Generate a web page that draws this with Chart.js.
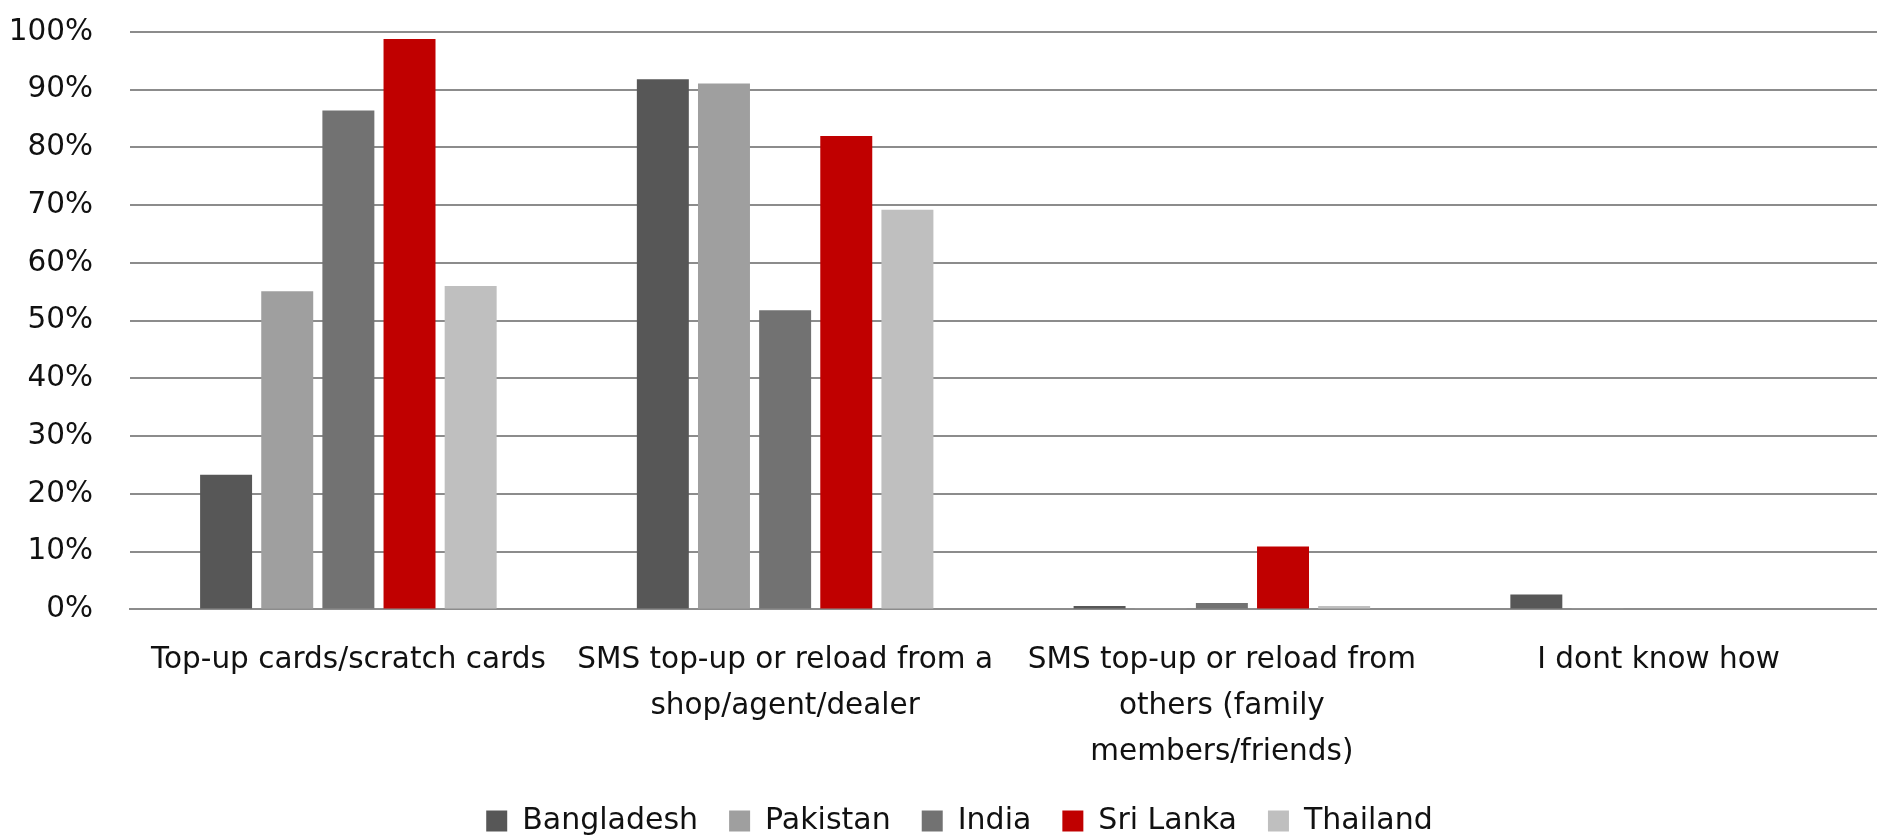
<!DOCTYPE html>
<html>
<head>
<meta charset="utf-8">
<script src="https://cdn.jsdelivr.net/npm/chart.js@4/dist/chart.umd.min.js"></script>
<style>
html,body{margin:0;padding:0;background:#fff;}
#wrap{width:1877px;height:838px;position:relative;}
</style>
</head>
<body>
<div id="wrap"><canvas id="c" width="1877" height="838"></canvas></div>
<script>
const categories = [
  ["Top-up cards/scratch cards"],
  ["SMS top-up or reload from a", "shop/agent/dealer"],
  ["SMS top-up or reload from", "others (family", "members/friends)"],
  ["I dont know how"]
];
const bangladesh = [23.3, 91.8, 0.6, 2.6];
const pakistan   = [55.1, 91.1, 0.2, 0.2];
const india      = [86.4, 51.8, 1.1, 0];
const sriLanka   = [98.8, 82.0, 10.9, 0];
const thailand   = [56.0, 69.2, 0.6, 0];
const seriesNames = ["Bangladesh", "Pakistan", "India", "Sri Lanka", "Thailand"];
const seriesColors = ["#575757", "#9f9f9f", "#727272", "#c00000", "#bfbfbf"];
const seriesValues = [bangladesh, pakistan, india, sriLanka, thailand];

const FONT = "'DejaVu Sans', sans-serif";

const legendShift = {
  id: 'legendShift',
  afterLayout(chart) {
    if (chart.legend) { chart.legend.left += 21; chart.legend.right += 21; }
  }
};

new Chart(document.getElementById('c'), {
  type: 'bar',
  data: {
    labels: categories,
    datasets: seriesNames.map((n, i) => ({
      label: n,
      data: seriesValues[i],
      backgroundColor: seriesColors[i],
      borderWidth: 0,
      categoryPercentage: 0.7,
      barPercentage: 0.85
    }))
  },
  plugins: [legendShift],
  options: {
    responsive: false,
    animation: false,
    devicePixelRatio: 1,
    layout: { padding: { top: 0, right: 0, left: 0, bottom: -8 } },
    plugins: {
      tooltip: { enabled: false },
      legend: {
        position: 'bottom',
        labels: {
          boxWidth: 21, boxHeight: 21,
          padding: 31,
          color: '#111',
          font: { family: FONT, size: 30 }
        }
      }
    },
    scales: {
      x: {
        grid: { display: false, drawTicks: false },
        border: { display: true, color: '#8c8c8c', width: 2 },
        afterFit: s => { s.height = 165.6; },
        ticks: {
          color: '#111',
          padding: 28.5,
          maxRotation: 0,
          autoSkip: false,
          font: { family: FONT, size: 29.5, lineHeight: 1.55 }
        }
      },
      y: {
        min: 0, max: 100,
        grid: { color: '#8c8c8c', lineWidth: 2, drawTicks: false },
        border: { display: false },
        afterFit: s => { s.width = 130; s.paddingTop = 32; s.paddingBottom = 17; },
        ticks: {
          stepSize: 10,
          padding: 37,
          color: '#111',
          font: { family: FONT, size: 29.5 },
          callback: v => v + '%'
        }
      }
    }
  }
});
</script>
</body>
</html>
